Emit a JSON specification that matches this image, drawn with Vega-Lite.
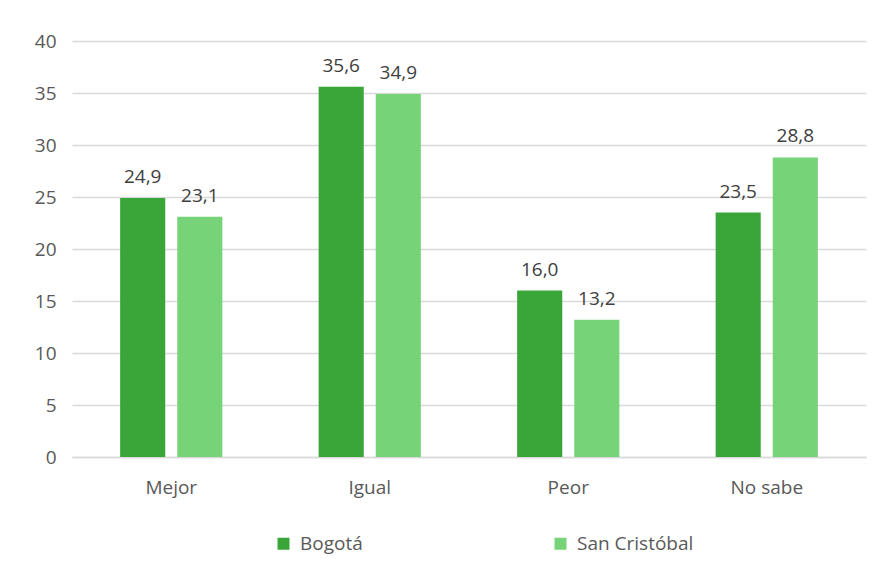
{
  "$schema": "https://vega.github.io/schema/vega-lite/v6.json",
  "width": 794,
  "height": 416,
  "autosize": "none",
  "padding": {"left": 72, "top": 41, "right": 16, "bottom": 118},
  "background": "white",
  "config": {
    "view": {"stroke": null},
    "font": "Open Sans",
    "locale": {"number": {"decimal": ",", "thousands": ".", "grouping": [3], "currency": ["", ""]}}
  },
  "data": {
    "values": [
      {"categoria": "Mejor", "zona": "Bogotá", "valor": 24.9},
      {"categoria": "Mejor", "zona": "San Cristóbal", "valor": 23.1},
      {"categoria": "Igual", "zona": "Bogotá", "valor": 35.6},
      {"categoria": "Igual", "zona": "San Cristóbal", "valor": 34.9},
      {"categoria": "Peor", "zona": "Bogotá", "valor": 16.0},
      {"categoria": "Peor", "zona": "San Cristóbal", "valor": 13.2},
      {"categoria": "No sabe", "zona": "Bogotá", "valor": 23.5},
      {"categoria": "No sabe", "zona": "San Cristóbal", "valor": 28.8}
    ]
  },
  "encoding": {
    "x": {
      "field": "categoria", "type": "nominal", "sort": ["Mejor", "Igual", "Peor", "No sabe"],
      "scale": {"paddingInner": 0.485, "paddingOuter": 0.2425},
      "axis": {"title": null, "labelAngle": 0, "labelFontSize": 19, "labelColor": "#595959", "labelPadding": 21, "ticks": false, "domainColor": "#d9d9d9", "domainWidth": 1.5}
    },
    "xOffset": {"field": "zona", "type": "nominal", "scale": {"paddingInner": 0.21, "paddingOuter": 0}},
    "y": {
      "field": "valor", "type": "quantitative",
      "scale": {"domain": [0, 40]},
      "axis": {"title": null, "values": [0, 5, 10, 15, 20, 25, 30, 35, 40], "labelFontSize": 19, "labelColor": "#595959", "labelPadding": 16, "ticks": false, "domain": false, "gridColor": "#d9d9d9", "gridWidth": 1.5}
    }
  },
  "layer": [
    {
      "mark": {"type": "bar"},
      "encoding": {
        "color": {
          "field": "zona", "type": "nominal",
          "scale": {"domain": ["Bogotá", "San Cristóbal"], "range": ["#3aa63a", "#77d377"]},
          "legend": {"title": null, "orient": "none", "legendX": 202, "legendY": 493, "direction": "horizontal", "symbolType": "square", "symbolSize": 144, "symbolStrokeWidth": 0, "labelFontSize": 19, "labelColor": "#595959", "labelOffset": 7, "columnPadding": 188}
        }
      }
    },
    {
      "mark": {"type": "text", "baseline": "alphabetic", "dy": -15, "fontSize": 19, "color": "#404040"},
      "encoding": {
        "text": {"field": "valor", "type": "quantitative", "format": ".1f"}
      }
    }
  ]
}
